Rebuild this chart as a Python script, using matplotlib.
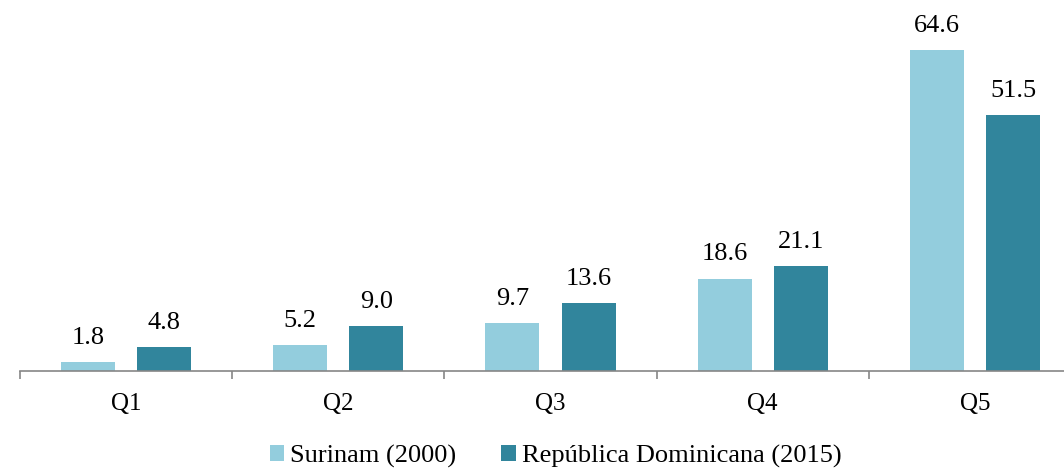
import numpy as np
import matplotlib.pyplot as plt

# Datos
categorias = ["Q1", "Q2", "Q3", "Q4", "Q5"]
surinam = [1.8, 5.2, 9.7, 18.6, 64.6]
dominicana = [4.8, 9.0, 13.6, 21.1, 51.5]
series_nombres = ["Surinam (2000)", "República Dominicana (2015)"]

color_claro = "#93CDDD"
color_oscuro = "#31859C"

plt.rcParams['font.family'] = ['Liberation Serif', 'DejaVu Serif']

fig = plt.figure(figsize=(10.64, 4.69), dpi=100)
ax = fig.add_axes([20 / 1064, 1 - 371 / 469, 1061 / 1064, 70 * 4.969 / 469])

x = np.arange(len(categorias))
ancho = 0.255
sep = 0.104 / 2 + ancho / 2

b1 = ax.bar(x - sep, surinam, ancho, color=color_claro, label=series_nombres[0])
b2 = ax.bar(x + sep, dominicana, ancho, color=color_oscuro, label=series_nombres[1])

for barras in (b1, b2):
    for b in barras:
        h = b.get_height()
        ax.annotate(f"{h:.1f}", (b.get_x() + b.get_width() / 2, h),
                    textcoords="offset points", xytext=(0, 9.5),
                    ha="center", va="bottom", fontsize=19)

ax.set_xlim(-0.5, len(categorias) - 0.5)
ax.set_ylim(0, 70)
ax.set_xticks(x)
ax.set_xticklabels(categorias, fontsize=18)
ax.set_xticks(np.arange(-0.5, len(categorias)), minor=True)
ax.tick_params(axis="x", which="major", length=0, pad=16)
ax.tick_params(axis="x", which="minor", length=6, color="#868686", width=1.2)
ax.set_yticks([])
for lado in ("top", "right", "left"):
    ax.spines[lado].set_visible(False)
ax.spines["bottom"].set_color("#868686")
ax.spines["bottom"].set_linewidth(1.2)

fig.legend(handles=[b1, b2], loc="center", bbox_to_anchor=(0.522, 1 - 456 / 469),
           ncol=2, frameon=False, fontsize=19, handlelength=0.55, handleheight=0.55,
           handletextpad=0.23, columnspacing=1.7, borderaxespad=0)

fig.savefig("out.png", dpi=100)
